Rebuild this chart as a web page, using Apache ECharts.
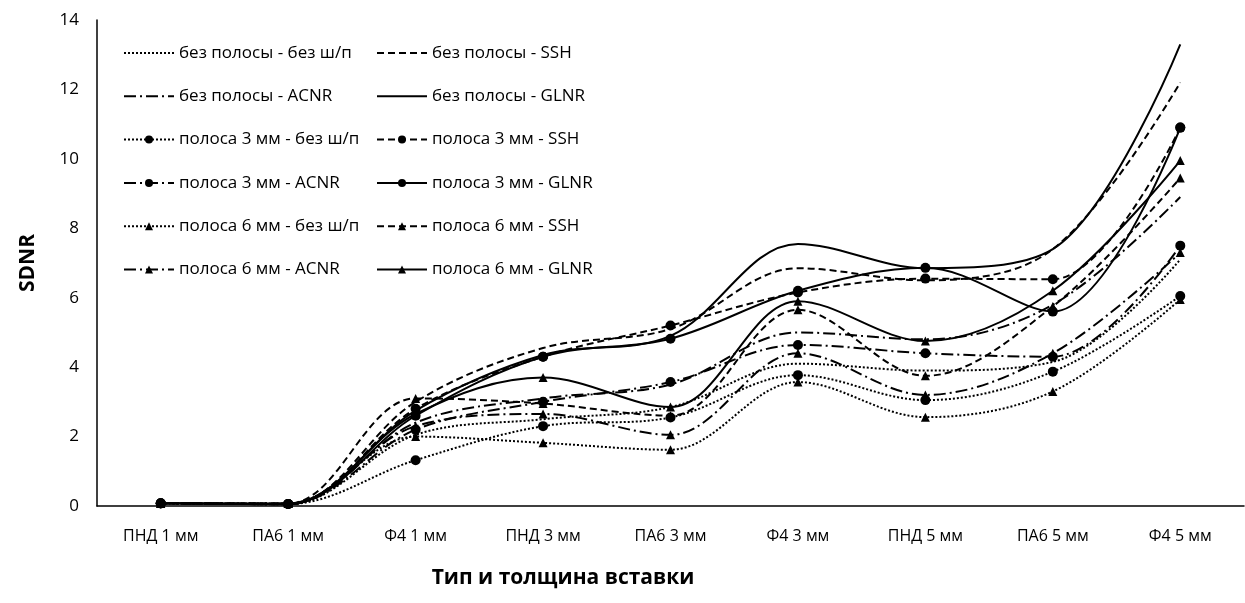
<!DOCTYPE html>
<html>
<head>
<meta charset="utf-8">
<script src="https://cdn.jsdelivr.net/npm/echarts@6/dist/echarts.min.js"></script>
<style>
  html, body { margin: 0; padding: 0; background: #fff; }
  #chart { width: 1245px; height: 603px; }
</style>
</head>
<body>
<div id="chart"></div>
<script>
// категории по оси X
var categories = ['ПНД 1 мм', 'ПА6 1 мм', 'Ф4 1 мм', 'ПНД 3 мм', 'ПА6 3 мм', 'Ф4 3 мм', 'ПНД 5 мм', 'ПА6 5 мм', 'Ф4 5 мм'];

// без полосы
var noStripNone = [0.08, 0.05, 2.05, 2.5, 2.85, 4.1, 3.9, 4.15, 7.1];
var noStripSSH = [0.08, 0.05, 3.0, 4.55, 5.1, 6.85, 6.5, 7.4, 12.2];
var noStripACNR = [0.08, 0.05, 2.4, 3.1, 3.5, 5.0, 4.8, 5.8, 8.9];
var noStripGLNR = [0.08, 0.05, 2.75, 4.35, 4.9, 7.55, 6.85, 7.4, 13.3];
// полоса 3 мм
var strip3None = [0.07, 0.06, 1.32, 2.3, 2.55, 3.77, 3.05, 3.87, 6.05];
var strip3SSH = [0.08, 0.06, 2.8, 4.3, 5.2, 6.15, 6.55, 6.53, 10.9];
var strip3ACNR = [0.08, 0.06, 2.2, 3.0, 3.57, 4.64, 4.4, 4.3, 7.5];
var strip3GLNR = [0.08, 0.06, 2.6, 4.3, 4.82, 6.2, 6.86, 5.6, 10.9];
// полоса 6 мм
var strip6None = [0.08, 0.07, 2.0, 1.82, 1.62, 3.57, 2.56, 3.3, 5.95];
var strip6SSH = [0.08, 0.07, 3.1, 2.95, 2.6, 5.65, 3.75, 5.75, 9.45];
var strip6ACNR = [0.08, 0.07, 2.3, 2.65, 2.05, 4.4, 3.2, 4.4, 7.3];
var strip6GLNR = [0.08, 0.07, 2.65, 3.7, 2.85, 5.9, 4.75, 6.2, 9.95];

var FONT = 'Open Sans';
var dotted = [2, 2];
var dashed = [7, 4];
var dashDot = [12, 4, 2, 4];

function mk(name, data, dash, symbol) {
    return {
        name: name,
        type: 'line',
        data: data,
        smooth: 0.35,
        symbol: symbol || 'none',
        symbolSize: symbol === 'triangle' ? 9 : 10,
        showSymbol: !!symbol,
        itemStyle: { color: '#000' },
        lineStyle: { color: '#000', width: 2, type: dash },
        emphasis: { disabled: true },
        z: 2
    };
}

var seriesList = [
    mk('без полосы - без ш/п', noStripNone, dotted),
    mk('без полосы - SSH', noStripSSH, dashed),
    mk('без полосы - ACNR', noStripACNR, dashDot),
    mk('без полосы - GLNR', noStripGLNR, 'solid'),
    mk('полоса 3 мм - без ш/п', strip3None, dotted, 'circle'),
    mk('полоса 3 мм - SSH', strip3SSH, dashed, 'circle'),
    mk('полоса 3 мм - ACNR', strip3ACNR, dashDot, 'circle'),
    mk('полоса 3 мм - GLNR', strip3GLNR, 'solid', 'circle'),
    mk('полоса 6 мм - без ш/п', strip6None, dotted, 'triangle'),
    mk('полоса 6 мм - SSH', strip6SSH, dashed, 'triangle'),
    mk('полоса 6 мм - ACNR', strip6ACNR, dashDot, 'triangle'),
    mk('полоса 6 мм - GLNR', strip6GLNR, 'solid', 'triangle')
];

// две колонки легенды; у серий без маркера прячем кружок в значке
var leftItems = [], rightItems = [];
seriesList.forEach(function (s, i) {
    var item = { name: s.name };
    if (s.symbol === 'none') {
        item.itemStyle = { color: 'rgba(0,0,0,0)', borderWidth: 0, opacity: 0 };
    }
    (i % 2 === 0 ? leftItems : rightItems).push(item);
});

var legendCommon = {
    orient: 'vertical',
    top: 42,
    padding: 0,
    itemWidth: 50,
    itemHeight: 10,
    itemGap: 21.3,
    selectedMode: false,
    textStyle: { fontFamily: FONT, fontSize: 17, lineHeight: 22, color: '#000' }
};

var chart = echarts.init(document.getElementById('chart'));
var option = {
    animation: false,
    backgroundColor: '#fff',
    textStyle: { fontFamily: FONT },
    grid: { left: 97, right: 1, top: 20, bottom: 97, containLabel: false },
    legend: [
        Object.assign({ left: 123, data: leftItems }, legendCommon),
        Object.assign({ left: 376, data: rightItems }, legendCommon)
    ],
    graphic: [{
        type: 'text',
        x: 563,
        y: 578,
        style: {
            text: 'Тип и толщина вставки',
            fill: '#000',
            font: 'bold 21px "Open Sans"',
            align: 'center',
            verticalAlign: 'middle'
        }
    }],
    xAxis: {
        type: 'category',
        data: categories,
        boundaryGap: true,
        axisLine: { lineStyle: { color: '#000', width: 1.5 } },
        axisTick: { show: false },
        axisLabel: { color: '#000', fontFamily: FONT, fontSize: 16, fontWeight: 500, margin: 22 }
    },
    yAxis: {
        type: 'value',
        min: 0,
        max: 14,
        interval: 2,
        axisLine: { show: true, lineStyle: { color: '#000', width: 1.5 } },
        axisTick: { show: false },
        splitLine: { show: false },
        axisLabel: { color: '#000', fontFamily: FONT, fontSize: 17, fontWeight: 500, margin: 18 },
        name: 'SDNR',
        nameLocation: 'middle',
        nameGap: 58,
        nameTextStyle: { color: '#000', fontFamily: FONT, fontSize: 21, fontWeight: 'bold' }
    },
    series: seriesList
};
chart.setOption(option);
window.addEventListener('resize', chart.resize);
</script>
</body>
</html>
